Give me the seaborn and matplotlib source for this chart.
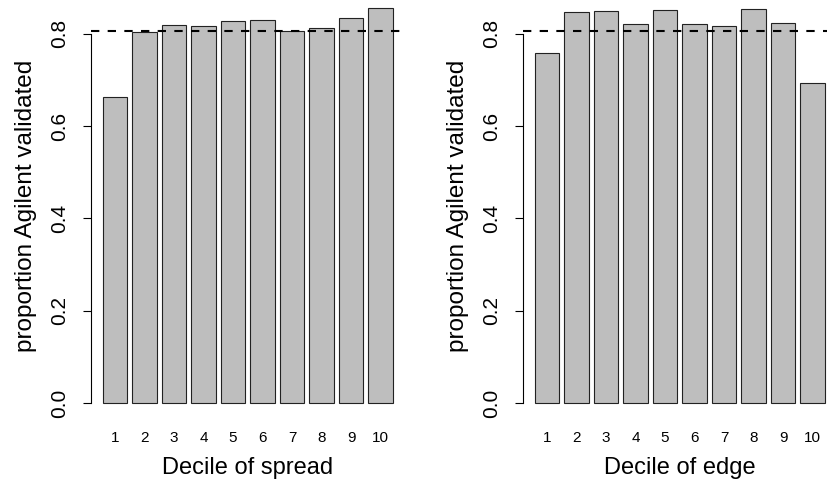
import matplotlib
matplotlib.use("Agg")
import matplotlib.pyplot as plt
import seaborn as sns
import pandas as pd

# ---- data ----
deciles = ["1", "2", "3", "4", "5", "6", "7", "8", "9", "10"]
spread_prop = [0.664, 0.803, 0.819, 0.817, 0.827, 0.831, 0.806, 0.812, 0.835, 0.856]
edge_prop = [0.758, 0.847, 0.849, 0.821, 0.852, 0.821, 0.817, 0.853, 0.823, 0.694]
overall_prop = 0.807
y_ticks = [0.0, 0.2, 0.4, 0.6, 0.8]
y_ticklabels = ["0.0", "0.2", "0.4", "0.6", "0.8"]
ylab = "proportion Agilent validated"
xlabs = ["Decile of spread", "Decile of edge"]

sns.set_theme(style="white")
plt.rcParams["font.family"] = ["Liberation Sans", "DejaVu Sans"]

W, H = 827, 484
fig = plt.figure(figsize=(W / 100, H / 100), dpi=100)

# axes geometry in pixels (R barplot style)
bottom_px, top_px = 418.7, -7.7
ax_w_px = 313.5
left_pxs = [91.0, 523.0]

def make_ax(lpx):
    return fig.add_axes([lpx / W, (H - bottom_px) / H, ax_w_px / W, (bottom_px - top_px) / H])

series = [spread_prop, edge_prop]
for i in range(2):
    ax = make_ax(left_pxs[i])
    df = pd.DataFrame({"decile": deciles, "prop": series[i]})
    sns.barplot(data=df, x="decile", y="prop", order=deciles, color="#BEBEBE",
                saturation=1, edgecolor="#222222", linewidth=0.8, width=1 / 1.2, ax=ax)
    ax.axhline(overall_prop, color="black", lw=1.5, linestyle=(0, (4, 4)), zorder=5)
    ax.set_xlim(-0.81, 9.81)
    ax.set_ylim(-0.034, 0.89)
    for s in ["top", "right", "bottom"]:
        ax.spines[s].set_visible(False)
    ax.spines["left"].set_visible(True)
    ax.spines["left"].set_color("black")
    ax.spines["left"].set_linewidth(0.8)
    ax.spines["left"].set_bounds(0, 0.8)
    ax.set_yticks(y_ticks)
    ax.set_yticklabels(y_ticklabels)
    ax.tick_params(axis="y", left=True, length=6, width=0.8, color="black",
                   labelsize=15, pad=10, labelrotation=90, labelcolor="black")
    for t in ax.get_yticklabels():
        t.set_va("center")
    ax.tick_params(axis="x", bottom=False, length=0, labelsize=11, pad=9, labelcolor="black")
    ax.set_xlabel(xlabs[i], fontsize=17, color="black")
    ax.set_ylabel(ylab, fontsize=17.5, color="black")
    ax.yaxis.set_label_coords(-0.172, 0.5)
    ax.xaxis.set_label_coords(0.5, (bottom_px - 457) / (bottom_px - top_px))
    ax.grid(False)
    ax.set_facecolor("white")
    ax.patch.set_alpha(0)

fig.savefig("out.png", dpi=100, facecolor="white")
